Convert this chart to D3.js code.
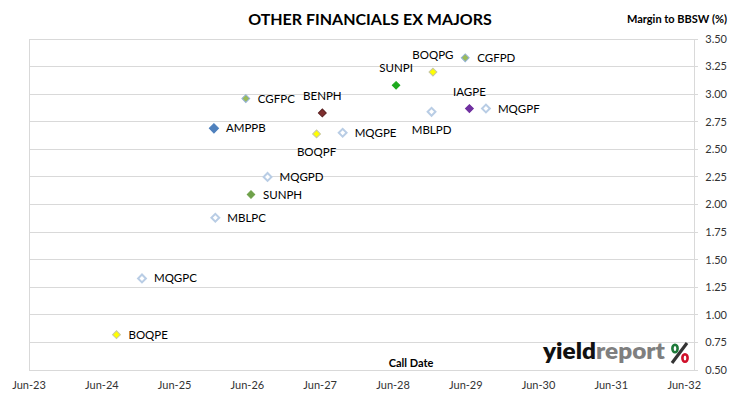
<!DOCTYPE html>
<html><head><meta charset="utf-8">
<script src="https://cdn.jsdelivr.net/npm/d3@7"></script>
<style>
body{margin:0;background:#fff;}
svg{display:block;}
text{font-family:Lato,"Open Sans",sans-serif;}
</style></head>
<body>
<svg id="c" width="730" height="399"></svg>
<script>
const codes = ["CGFPC","BENPH","AMPPB","BOQPF","MQGPE","MQGPD","SUNPH","MBLPC","MQGPC","BOQPE","SUNPI","BOQPG","CGFPD","IAGPE","MQGPF","MBLPD"];
const callDates = ["2026-05-24","2027-06-12","2025-12-15","2027-05-14","2027-09-22","2026-09-10","2026-06-19","2025-12-22","2024-12-19","2024-08-13","2028-06-16","2028-12-18","2029-05-29","2029-06-19","2029-09-10","2028-12-11"];
const margins = [2.96,2.83,2.69,2.64,2.65,2.25,2.09,1.88,1.33,0.82,3.08,3.20,3.33,2.87,2.87,2.84];
const labelSide = ["right","above","right","below","right","right","right","right","right","right","above","above","right","above","right","below"];
const issuerType = ["cgf","ben","amp","boq","mqgblp","mqgblp","sunh","mqgblp","mqgblp","boq","suni","boq","cgf","iag","mqgblp","mqgblp"];
const xTickLabels = ["Jun-23","Jun-24","Jun-25","Jun-26","Jun-27","Jun-28","Jun-29","Jun-30","Jun-31","Jun-32"];
const yTicks = [0.50,0.75,1.00,1.25,1.50,1.75,2.00,2.25,2.50,2.75,3.00,3.25,3.50];

const styles = {
  cgf:{fill:"#9BBB59",stroke:"#95B3D7",size:44},
  ben:{fill:"#7F2F2F",stroke:"#5A1F1F",size:44},
  amp:{fill:"#4F81BD",stroke:"#4F81BD",size:60},
  boq:{fill:"#FFFF00",stroke:"#C8C8A0",size:44},
  mqgblp:{fill:"#FFFFFF",stroke:"#B9CDE5",size:44,sw:2},
  sunh:{fill:"#6FA14A",stroke:"#6FA14A",size:40},
  suni:{fill:"#1EAA1E",stroke:"#1EAA1E",size:40},
  iag:{fill:"#7030A0",stroke:"#7030A0",size:44}
};

const parse = d3.timeParse("%Y-%m-%d");
const data = codes.map((c,i)=>({code:c,date:parse(callDates[i]),v:margins[i],side:labelSide[i],type:issuerType[i]}));

const svg = d3.select("#c");
const L=29, R=694, T=39, B=370;
const x = d3.scaleTime().domain([parse("2023-06-01"), parse("2032-07-20")]).range([L,R]);
const y = d3.scaleLinear().domain([0.5,3.5]).range([B,T]);

// gridlines
svg.append("g").selectAll("line").data(yTicks).join("line")
  .attr("x1",L).attr("x2",R+4).attr("y1",d=>y(d)).attr("y2",d=>y(d))
  .attr("stroke","#D9D9D9").attr("stroke-width",1).attr("shape-rendering","crispEdges");
// axis lines
svg.append("line").attr("x1",L).attr("x2",L).attr("y1",T).attr("y2",B).attr("stroke","#D9D9D9").attr("shape-rendering","crispEdges");
svg.append("line").attr("x1",R).attr("x2",R).attr("y1",T).attr("y2",B).attr("stroke","#D9D9D9").attr("shape-rendering","crispEdges");

// y labels
svg.append("g").selectAll("text").data(yTicks).join("text")
  .attr("x",727).attr("y",d=>y(d)).attr("dy","0.35em").attr("text-anchor","end")
  .attr("font-size",11).attr("fill","#333").text(d=>d.toFixed(2));

// x labels
const xTicks = xTickLabels.map((s,i)=>d3.timeYear.offset(parse("2023-06-01"),i));
svg.append("g").selectAll("text").data(xTicks).join("text")
  .attr("x",d=>x(d)).attr("y",385).attr("dy","0.35em").attr("text-anchor","middle")
  .attr("font-size",11).attr("fill","#333").text((d,i)=>xTickLabels[i]);

// title
svg.append("text").attr("x",370).attr("y",25).attr("text-anchor","middle")
  .attr("font-size",16).attr("font-weight","bold").attr("fill","#000").text("OTHER FINANCIALS EX MAJORS");
svg.append("text").attr("x",727).attr("y",23).attr("text-anchor","end")
  .attr("font-size",11).attr("font-weight","bold").attr("fill","#000").text("Margin to BBSW (%)");
svg.append("text").attr("x",411).attr("y",367).attr("text-anchor","middle")
  .attr("font-size",11).attr("font-weight","bold").attr("fill","#000").text("Call Date");

// markers
svg.append("g").selectAll("path").data(data).join("path")
  .attr("d",d=>d3.symbol().type(d3.symbolSquare).size(styles[d.type].size*0.7)())
  .attr("transform",d=>`translate(${x(d.date)},${y(d.v)}) rotate(45)`)
  .attr("fill",d=>styles[d.type].fill).attr("stroke",d=>styles[d.type].stroke)
  .attr("stroke-width",d=>styles[d.type].sw||1);

// labels
svg.append("g").selectAll("text").data(data).join("text")
  .attr("x",d=>d.side==="right"?x(d.date)+12:x(d.date))
  .attr("y",d=>d.side==="right"?y(d.v):d.side==="above"?y(d.v)-17:y(d.v)+18.5)
  .attr("dy","0.35em")
  .attr("text-anchor",d=>d.side==="right"?"start":"middle")
  .attr("font-size",11.5).attr("fill","#000").text(d=>d.code);

// logo
const logo = svg.append("text").attr("x",543).attr("y",358.5).attr("font-size",23).attr("font-weight","800")
  .attr("font-family","'Open Sans',sans-serif")
  .attr("textLength",122).attr("lengthAdjust","spacingAndGlyphs");
logo.append("tspan").attr("fill","#111").text("yield");
logo.append("tspan").attr("fill","#7F7F7F").text("report");
const pct = svg.append("g");
pct.append("line").attr("x1",687).attr("y1",343).attr("x2",672).attr("y2",363)
  .attr("stroke","#333").attr("stroke-width",3.2);
pct.append("ellipse").attr("cx",675).attr("cy",348.5).attr("rx",2.6).attr("ry",3.8)
  .attr("fill","none").attr("stroke","#1E7A3A").attr("stroke-width",2.6);
pct.append("ellipse").attr("cx",685).attr("cy",358).attr("rx",2.6).attr("ry",3.8)
  .attr("fill","none").attr("stroke","#D0102A").attr("stroke-width",2.6);
</script>
</body></html>
